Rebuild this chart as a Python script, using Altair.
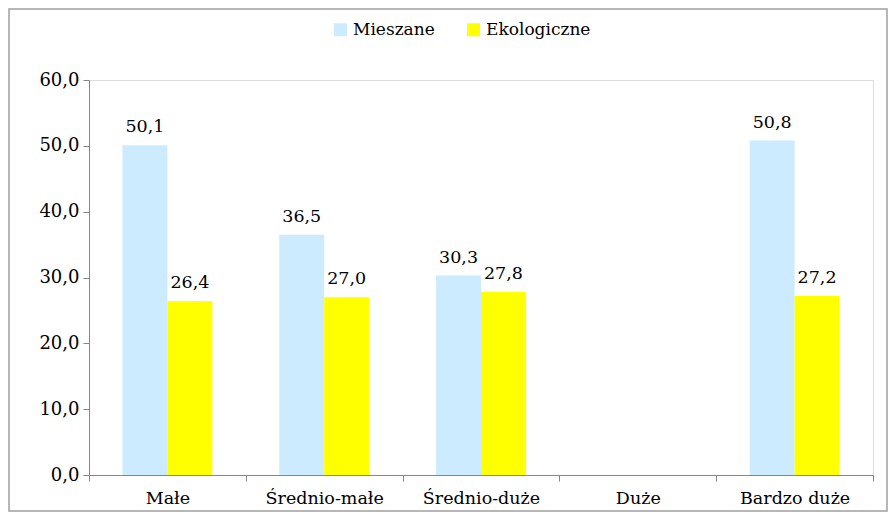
import altair as alt
import pandas as pd

categories = ["Małe", "Średnio-małe", "Średnio-duże", "Duże", "Bardzo duże"]
series = ["Mieszane", "Ekologiczne"]
mieszane = [50.1, 36.5, 30.3, None, 50.8]
ekologiczne = [26.4, 27.0, 27.8, None, 27.2]
y_ticks = [0, 10, 20, 30, 40, 50, 60]
colors = ["#CCEBFF", "#FFFF00"]

rows = []
for c, m, e in zip(categories, mieszane, ekologiczne):
    if m is not None:
        rows.append({"kat": c, "seria": "Mieszane", "wartosc": m})
    if e is not None:
        rows.append({"kat": c, "seria": "Ekologiczne", "wartosc": e})
df = pd.DataFrame(rows)

FONT = "DejaVu Serif"
W, H = 784, 395
PL, PT, PR, PB = 81, 72, 15, 37

x_enc = alt.X("kat:N", sort=categories,
              scale=alt.Scale(domain=categories, paddingInner=0, paddingOuter=0),
              axis=alt.Axis(title=None, labelAngle=0, tickBand="extent", tickSize=6,
                            labelPadding=8, labelFontSize=17.5, labelFont=FONT,
                            labelColor="#000000", domainColor="#868686", tickColor="#868686"))
xo_enc = alt.XOffset("seria:N", sort=series,
                     scale=alt.Scale(domain=series, paddingInner=0, paddingOuter=0.745))
y_enc = alt.Y("wartosc:Q",
              scale=alt.Scale(domain=[0, 60], nice=False),
              axis=alt.Axis(title=None, values=y_ticks, tickSize=6, labelPadding=4,
                            labelFontSize=18, labelFont=FONT, labelColor="#000000",
                            domainColor="#868686", tickColor="#868686", grid=False,
                            labelExpr="replace(format(datum.value, '.1f'), '.', ',')"))

base = alt.Chart(df)

bars = base.mark_bar().encode(
    x=x_enc,
    xOffset=xo_enc,
    y=y_enc,
    color=alt.Color("seria:N", sort=series,
                    scale=alt.Scale(domain=series, range=colors),
                    legend=alt.Legend(title=None, orient="none", direction="horizontal",
                                      legendX=243, legendY=-59, symbolType="square",
                                      symbolSize=169, symbolStrokeWidth=0,
                                      labelFont=FONT, labelFontSize=17,
                                      labelColor="#000000", columnPadding=30,
                                      labelOffset=4)),
)

labels = base.transform_calculate(
    lab="replace(format(datum.wartosc, '.1f'), '.', ',')"
).mark_text(baseline="alphabetic", dy=-13, font=FONT, fontSize=17.5, color="#000000").encode(
    x=alt.X("kat:N", sort=categories, scale=alt.Scale(domain=categories, paddingInner=0, paddingOuter=0)),
    xOffset=xo_enc,
    y=alt.Y("wartosc:Q", scale=alt.Scale(domain=[0, 60], nice=False)),
    text="lab:N",
)

border = alt.Chart(alt.Data(values=[{}])).mark_rect(
    fill=None, stroke="#A0A0A0", strokeWidth=1.5
).encode(
    x=alt.value(-PL + 1), x2=alt.value(W + PR - 1),
    y=alt.value(-PT + 1), y2=alt.value(H + PB - 1),
)

chart = alt.layer(bars, labels, border).properties(
    width=W, height=H,
    padding={"left": PL, "top": PT, "right": PR, "bottom": PB},
    autosize=alt.AutoSizeParams(type="none"),
).configure_view(stroke=None).configure(background="#FFFFFF", font=FONT)

chart.save("out.html", embed_options={"renderer": "svg", "actions": False})
